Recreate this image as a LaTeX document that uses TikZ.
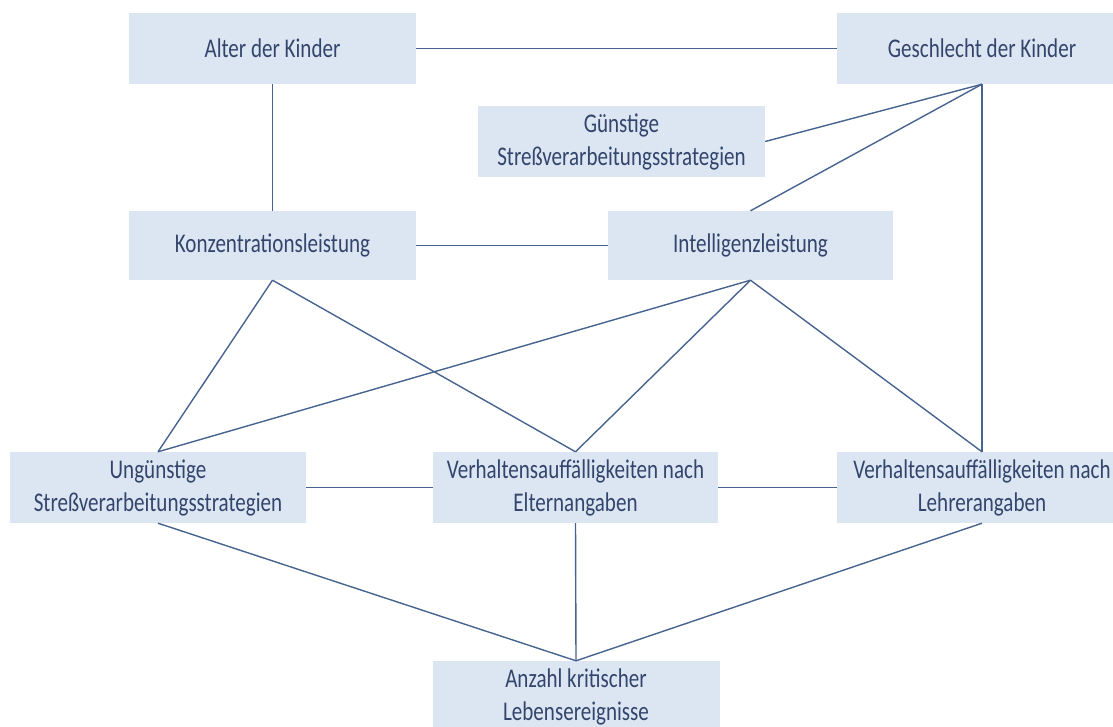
\documentclass[tikz,border=0pt]{standalone}
\usepackage{fontspec}
\setmainfont{Carlito}[FakeStretch=0.78]
\usepackage{tikz}
\definecolor{boxfill}{HTML}{DCE6F2}
\definecolor{boxtext}{HTML}{33456C}
\definecolor{linkcol}{HTML}{47638F}

\begin{document}
\begin{tikzpicture}[x=1pt, y=-1pt,
  fact/.style={fill=boxfill, text=boxtext, align=center, inner sep=0pt,
    minimum width=287pt, minimum height=71pt,
    font=\fontsize{27}{33}\selectfont},
  link/.style={draw=linkcol, line width=1.4pt}]

  \useasboundingbox (0,0) rectangle (1113,727);

  %% top row
  \node[fact] (alter) at (272.5, 48.5) {Alter der Kinder};
  \node[fact, minimum width=290pt] (geschl) at (982, 48.5) {Geschlecht der Kinder};
  \node[fact] (guenst) at (621.5, 141.5) {Günstige\\Streßverarbeitungsstrategien};

  %% middle row
  \node[fact, minimum height=69pt] (konz) at (272.5, 245.5) {Konzentrationsleistung};
  \node[fact, minimum width=285pt, minimum height=69pt] (intel) at (750.5, 245.5) {Intelligenzleistung};

  %% lower row
  \node[fact, minimum width=296pt] (unguenst) at (158, 487.5) {Ungünstige\\Streßverarbeitungsstrategien};
  \node[fact, minimum width=285pt] (eltern) at (575.5, 487.5) {Verhaltensauffälligkeiten nach\\Elternangaben};
  \node[fact, minimum width=290pt] (lehrer) at (982, 487.5) {Verhaltensauffälligkeiten nach\\Lehrerangaben};

  %% bottom
  \node[fact] (anzahl) at (576, 696.5) {Anzahl kritischer\\Lebensereignisse};

  \draw[link] (alter.east) -- (geschl.west); % Alter-Geschlecht
  \draw[link] (alter.south) -- (konz.north); % Alter-Konz
  \draw[link] (geschl.south) -- (guenst.east);
  \draw[link] (geschl.south) -- (intel.north);
  \draw[link] (geschl.south) -- (lehrer.north);
  \draw[link] (konz.east) -- (intel.west); % Konz-Intel

  \draw[link] (konz.south) -- (unguenst.north);
  \draw[link] (konz.south) -- (eltern.north);
  \draw[link] (intel.south) -- (unguenst.north);
  \draw[link] (intel.south) -- (eltern.north);
  \draw[link] (intel.south) -- (lehrer.north);

  \draw[link] (unguenst.east) -- (eltern.west);
  \draw[link] (eltern.east) -- (lehrer.west);

  \draw[link] (unguenst.south) -- (anzahl.north);
  \draw[link] (eltern.south) -- (anzahl.north);
  \draw[link] (lehrer.south) -- (anzahl.north);

\end{tikzpicture}
\end{document}
